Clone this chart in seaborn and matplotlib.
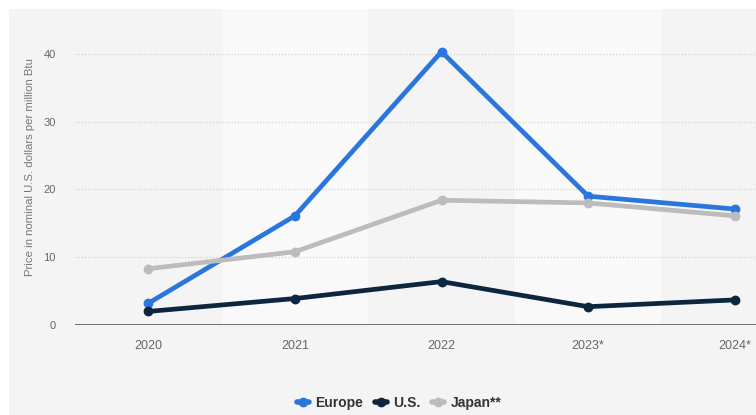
import matplotlib
matplotlib.use("Agg")
import matplotlib.pyplot as plt
from matplotlib.patches import Rectangle
from matplotlib.lines import Line2D
import seaborn as sns
import pandas as pd

years = ["2020", "2021", "2022", "2023*", "2024*"]
europe = [3.2, 16.1, 40.3, 19.0, 17.1]
us = [2.0, 3.9, 6.4, 2.7, 3.7]
japan = [8.3, 10.8, 18.4, 18.0, 16.1]
series_names = ["Europe", "U.S.", "Japan**"]
colors = ["#2a76dd", "#0d2640", "#bcbcbc"]

df = pd.DataFrame({
    "year": years * 3,
    "price": europe + us + japan,
    "region": [n for n in series_names for _ in years],
})

sns.set_theme(style="white")
plt.rcParams["font.family"] = ["Liberation Sans", "DejaVu Sans"]

fig = plt.figure(figsize=(7.56, 4.15), dpi=100, facecolor="white")
# panel background
fig.patches.append(Rectangle((9 / 756, 0), 1, (415 - 9) / 415,
                             transform=fig.transFigure, facecolor="#f4f4f4",
                             edgecolor="none", zorder=-5))

ax = fig.add_axes([75 / 756, (415 - 325) / 415, (808 - 75) / 756, (325 - 9) / 415])
ax.set_facecolor("#f4f4f4")
ax.patch.set_alpha(0)

for i in range(len(years)):
    if i % 2 == 1:
        ax.axvspan(i - 0.5, i + 0.5, color="#f9f9f9", zorder=0, lw=0)

sns.pointplot(data=df, x="year", y="price", hue="region", palette=colors,
              hue_order=series_names, markers="o", linestyles="-",
              markersize=4.5, linewidth=3.4, ax=ax, legend=False, zorder=3)

ax.set_xlim(-0.5, len(years) - 0.5)
ax.set_ylim(0, 46.6)
ax.set_yticks([0, 10, 20, 30, 40])
for v in [10, 20, 30, 40]:
    ax.axhline(v, color="#d2d2d2", lw=0.9, ls=(0, (1, 1.5)), zorder=1)
ax.axhline(0, color="#555555", lw=1.2, zorder=2)

for s in ax.spines.values():
    s.set_visible(False)
ax.tick_params(axis="y", colors="#666666", labelsize=8, length=0, pad=14)
ax.tick_params(axis="x", colors="#666666", labelsize=9, length=0, pad=11)
ax.set_xlabel("")
ax.set_ylabel("Price in nominal U.S. dollars per million Btu", color="#777777",
              fontsize=8.2, labelpad=6)

handles = [Line2D([0], [0], color=c, lw=4, marker="o", markersize=6)
           for c in colors]
leg = fig.legend(handles, series_names, loc="center", ncol=3,
                 bbox_to_anchor=(399 / 756, (415 - 403) / 415), frameon=False,
                 handlelength=0.9, handletextpad=0.45, columnspacing=0.8,
                 borderpad=0.2, prop={"weight": "bold", "size": 10})
for t in leg.get_texts():
    t.set_color("#333333")

fig.savefig("out.png", dpi=100, facecolor="white")
